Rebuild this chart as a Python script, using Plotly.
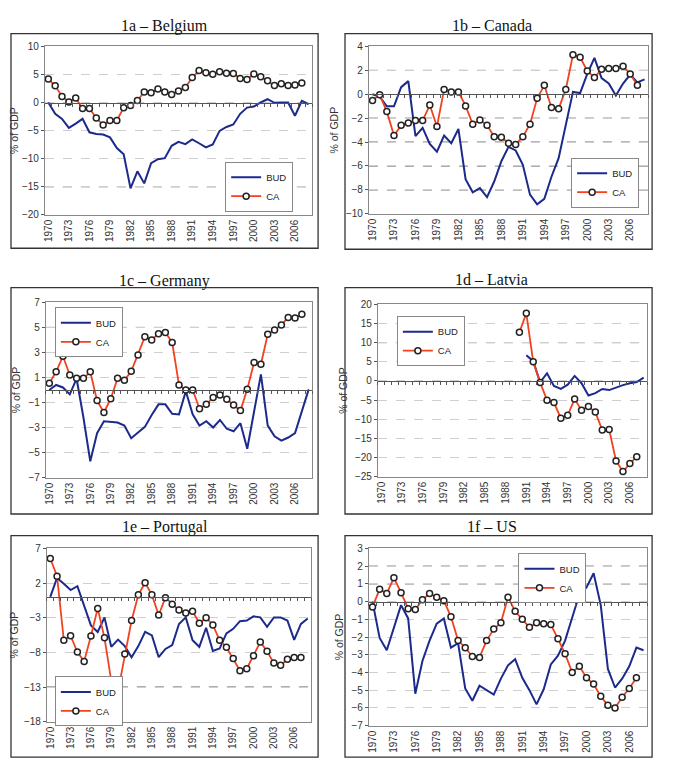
import plotly.graph_objects as go

W, H = 677, 761

YEARS = list(range(1970, 2009))
TICK_YEARS = list(range(1970, 2007, 3))

# ---------------- data (% of GDP) ----------------
BE_BUD = [0.0, -2.0, -2.9, -4.5, -3.75, -2.9, -5.3, -5.6, -5.7, -6.2, -8.1, -9.2, -15.3, -12.25,
          -14.4, -10.8, -10.1, -9.9, -7.7, -7.0, -7.4, -6.55, -7.25, -8.0, -7.45, -5.05, -4.35,
          -3.9, -2.0, -0.9, -0.7, 0.05, 0.6, -0.05, 0.0, 0.0, -2.35, 0.3, -0.3]
BE_CA = [4.2, 3.0, 1.1, 0.1, 0.8, -1.05, -1.05, -2.75, -4.0, -3.2, -3.2, -0.9, -0.5, 0.35, 1.9,
         1.75, 2.4, 1.9, 1.45, 2.05, 2.7, 4.45, 5.7, 5.3, 5.05, 5.5, 5.25, 5.2, 4.3, 4.1, 5.1,
         4.6, 3.9, 3.05, 3.35, 3.05, 3.15, 3.5]

CA_BUD = [0.0, -0.2, -1.0, -1.0, 0.6, 1.1, -3.5, -2.8, -4.15, -4.8, -3.45, -4.1, -2.9, -7.1,
          -8.2, -7.85, -8.6, -7.3, -5.6, -4.4, -4.7, -5.9, -8.4, -9.2, -8.75, -6.9, -5.35, -2.6,
          0.2, 0.1, 1.7, 3.05, 1.35, 0.9, -0.1, 0.9, 1.65, 1.0, 1.25]
CA_CA = [-0.53, -0.03, -1.45, -3.45, -2.6, -2.4, -2.2, -2.2, -0.9, -2.7, 0.4, 0.2, 0.2, -0.97,
         -2.5, -2.15, -2.6, -3.55, -3.6, -4.1, -4.2, -3.55, -2.5, -0.33, 0.75, -1.1, -1.2, 0.4,
         3.3, 3.1, 1.95, 1.4, 2.1, 2.15, 2.15, 2.35, 1.7, 0.75]

DE_BUD = [0.0, 0.4, 0.2, -0.35, 0.9, -2.2, -5.7, -3.45, -2.5, -2.55, -2.6, -2.85, -3.85, -3.4,
          -2.95, -2.0, -1.15, -1.15, -1.9, -1.95, -0.1, -1.95, -2.85, -2.5, -3.0, -2.4, -3.1,
          -3.3, -2.65, -4.7, -1.7, 1.25, -2.85, -3.7, -4.05, -3.8, -3.45, -1.7, 0.05]
DE_CA = [0.54, 1.45, 2.7, 1.2, 0.93, 0.93, 1.45, -0.85, -1.8, -0.7, 0.93, 0.77, 1.5, 2.8, 4.25,
         4.0, 4.5, 4.6, 3.8, 0.4, 0.0, 0.0, -1.5, -1.15, -0.6, -0.4, -0.75, -1.2, -1.65, 0.05,
         2.2, 2.05, 4.45, 4.8, 5.2, 5.8, 5.75, 6.05]

LV_BUD = [None] * 21 + [6.7, 5.15, -0.4, 2.0, -1.3, -2.1, -1.0, 1.3, -0.6, -3.8, -3.2, -2.1,
                        -2.4, -1.7, -1.1, -0.6, -0.3, 0.85]
LV_CA = [None] * 20 + [12.7, 17.65, 5.0, -0.4, -5.05, -5.65, -9.75, -9.0, -4.7, -7.7, -6.7,
                       -8.15, -12.85, -12.7, -20.9, -23.7, -21.6, -19.8]

PT_BUD = [0.0, 2.75, 1.9, 1.0, 1.55, -1.3, -4.1, -5.05, -2.95, -7.2, -6.15, -7.1, -8.7, -7.1,
          -5.05, -5.55, -8.7, -7.5, -6.95, -3.9, -2.95, -6.25, -7.2, -4.45, -7.8, -7.45, -5.25,
          -4.6, -3.5, -3.4, -2.8, -2.95, -4.3, -2.95, -2.95, -3.4, -6.2, -3.9, -3.1]
PT_CA = [5.55, 3.0, -6.25, -5.6, -7.95, -9.3, -5.65, -1.65, -5.9, -12.1, -13.6, -8.25, -3.4, 0.3,
         2.05, 0.3, -2.6, -0.1, -1.05, -1.9, -2.3, -2.05, -3.8, -3.0, -4.05, -6.25, -7.25, -8.9,
         -10.65, -10.35, -8.5, -6.5, -7.85, -9.55, -9.85, -9.0, -8.75, -8.75]

US_BUD = [0.0, -2.05, -2.75, -1.45, -0.2, -0.95, -5.2, -3.35, -2.2, -1.25, -0.95, -2.6, -2.35,
          -4.9, -5.6, -4.75, -5.0, -5.25, -4.35, -3.6, -3.25, -4.3, -5.0, -5.8, -4.95, -3.55,
          -3.05, -2.2, -0.9, 0.4, 0.8, 1.6, -0.2, -3.8, -4.85, -4.35, -3.65, -2.6, -2.75]
US_CA = [-0.3, 0.7, 0.45, 1.35, 0.5, -0.4, -0.45, 0.1, 0.45, 0.25, 0.05, -0.85, -2.2, -2.6, -3.1,
         -3.15, -2.2, -1.55, -1.2, 0.25, -0.55, -1.0, -1.45, -1.2, -1.25, -1.3, -2.1, -2.95,
         -4.0, -3.65, -4.3, -4.65, -5.35, -5.85, -6.0, -5.4, -4.9, -4.3]

# reference (dark dashed) levels in each panel
BE_REF = [-15]
CA_REF = [2, -2, -4, -6, -8]
DE_REF = [5]
LV_REF = [15, 10]
PT_REF = [-13]
US_REF = [2, 1]

TITLES = ["1a – Belgium", "1b – Canada", "1c – Germany", "1d – Latvia", "1e – Portugal", "1f – US"]

# ---------------- layout geometry (pixels) ----------------
# leg = (x, y, xanchor)
PANELS = [
    dict(title=TITLES[0], bud=BE_BUD, ca=BE_CA, ref=BE_REF, yr=(-20, 10), dtick=5,
         box=(1, 20, 309, 238), plot=(35, 33, 303, 204), leg=(284, 150, "right"), tpos=(155, 12)),
    dict(title=TITLES[1], bud=CA_BUD, ca=CA_CA, ref=CA_REF, yr=(-10, 4), dtick=2,
         box=(336, 20, 644, 239), plot=(360, 33, 640, 203), leg=(631, 146, "right"), tpos=(483, 12)),
    dict(title=TITLES[2], bud=DE_BUD, ca=DE_CA, ref=DE_REF, yr=(-7, 7), dtick=2,
         box=(1, 278, 309, 508), plot=(36, 293, 303, 471), leg=(45, 298, "left"), tpos=(155, 271)),
    dict(title=TITLES[3], bud=LV_BUD, ca=LV_CA, ref=LV_REF, yr=(-25, 20), dtick=5,
         box=(336, 278, 644, 508), plot=(369, 295, 639, 470), leg=(388, 307, "left"), tpos=(483, 270)),
    dict(title=TITLES[4], bud=PT_BUD, ca=PT_CA, ref=PT_REF, yr=(-18, 7), dtick=5,
         box=(1, 530, 309, 755), plot=(37, 543, 302, 719), leg=(45, 673, "left"), tpos=(155, 521)),
    dict(title=TITLES[5], bud=US_BUD, ca=US_CA, ref=US_REF, yr=(-7, 3), dtick=1,
         box=(336, 530, 644, 755), plot=(360, 543, 639, 723), leg=(510, 548, "left"), tpos=(483, 521)),
]

BUD_COLOR = "#1c2a8c"
CA_COLOR = "#f2411f"
FONT = "Liberation Sans, Arial, sans-serif"
XR = [YEARS[0] - 0.5, YEARS[-1] + 0.5]


def px(x):
    return x / W


def py(y):
    return 1 - y / H


fig = go.Figure()
layout = dict(
    width=W, height=H, margin=dict(l=0, r=0, t=0, b=0),
    paper_bgcolor="white", plot_bgcolor="white", showlegend=True,
    font=dict(family=FONT, size=10, color="#333333"),
)
shapes = []
annotations = []
n = len(PANELS)

for i, p in enumerate(PANELS):
    k = i + 1
    sfx = "" if k == 1 else str(k)
    leg = "legend" if k == 1 else f"legend{k}"
    x0, y0, x1, y1 = p["plot"]
    dom_x = [px(x0), px(x1)]
    dom_y = [py(y1), py(y0)]
    ymin, ymax = p["yr"]

    fig.add_trace(go.Scatter(
        x=YEARS, y=p["bud"], mode="lines", name="BUD",
        line=dict(color=BUD_COLOR, width=2), xaxis=f"x{sfx}", yaxis=f"y{sfx}",
        legend=leg, connectgaps=False))
    fig.add_trace(go.Scatter(
        x=YEARS[:len(p["ca"])], y=p["ca"], mode="lines+markers", name="CA",
        line=dict(color=CA_COLOR, width=1.8),
        marker=dict(symbol="circle", size=6, color="white",
                    line=dict(color="#222222", width=1.5)),
        xaxis=f"x{sfx}", yaxis=f"y{sfx}", legend=leg, connectgaps=False))

    layout[f"xaxis{sfx}"] = dict(
        domain=dom_x, anchor=f"y{sfx}", range=XR, tickmode="array",
        tickvals=TICK_YEARS, ticktext=[str(t) for t in TICK_YEARS], tickangle=-90,
        showgrid=False, zeroline=False, showline=True, mirror=True,
        linecolor="#888888", linewidth=1, ticks="",
        tickfont=dict(family=FONT, size=10, color="#333333"))
    layout[f"yaxis{sfx}"] = dict(
        domain=dom_y, anchor=f"x{sfx}", range=[ymin, ymax], tickmode="linear",
        tick0=ymin, dtick=p["dtick"], showgrid=True, gridcolor="#cfcfcf",
        griddash="dash", gridwidth=1, zeroline=False, showline=True, mirror=True,
        linecolor="#888888", linewidth=1, ticks="outside", ticklen=3, tickcolor="#555555",
        tickfont=dict(family=FONT, size=10, color="#333333"),
        title=dict(text="% of GDP", font=dict(family=FONT, size=10.5, color="#333333"),
                   standoff=5))

    # zero-line axis with category tick marks
    kz = n + k
    pos = dom_y[0] + (0 - ymin) / (ymax - ymin) * (dom_y[1] - dom_y[0])
    layout[f"xaxis{kz}"] = dict(
        overlaying=f"x{sfx}", anchor="free", position=pos, range=XR,
        tickmode="linear", tick0=XR[0], dtick=1, ticks="outside", ticklen=3,
        tickcolor="#555555", showticklabels=False, showgrid=False, zeroline=False,
        showline=True, linecolor="#555555", linewidth=1.2)
    fig.add_trace(go.Scatter(x=[YEARS[0]], y=[None], xaxis=f"x{kz}", yaxis=f"y{sfx}",
                             showlegend=False, hoverinfo="skip", mode="lines"))

    # dark dashed reference lines
    for v in p["ref"]:
        shapes.append(dict(type="line", xref=f"x{sfx} domain", yref=f"y{sfx}",
                           x0=0, x1=1, y0=v, y1=v, layer="below",
                           line=dict(color="#555555", width=1, dash="dash")))

    # outer frame
    bx0, by0, bx1, by1 = p["box"]
    shapes.append(dict(type="rect", xref="paper", yref="paper",
                       x0=px(bx0), x1=px(bx1), y0=py(by1), y1=py(by0),
                       line=dict(color="#333333", width=1.3), layer="above"))

    # title
    tx, ty = p["tpos"]
    annotations.append(dict(text=p["title"], xref="paper", yref="paper", x=px(tx), y=py(ty),
                            xanchor="center", yanchor="middle", showarrow=False,
                            font=dict(family="Liberation Serif, Times New Roman, serif",
                                      size=16, color="#111111")))

    lx, ly, lanchor = p["leg"]
    layout[leg] = dict(x=px(lx), y=py(ly), xanchor=lanchor, yanchor="top",
                       bgcolor="white", bordercolor="#888888", borderwidth=1,
                       font=dict(family=FONT, size=9.5, color="#222222"),
                       itemwidth=30, tracegroupgap=0)

layout["shapes"] = shapes
layout["annotations"] = annotations
fig.update_layout(**layout)

fig.write_html("out.html")
